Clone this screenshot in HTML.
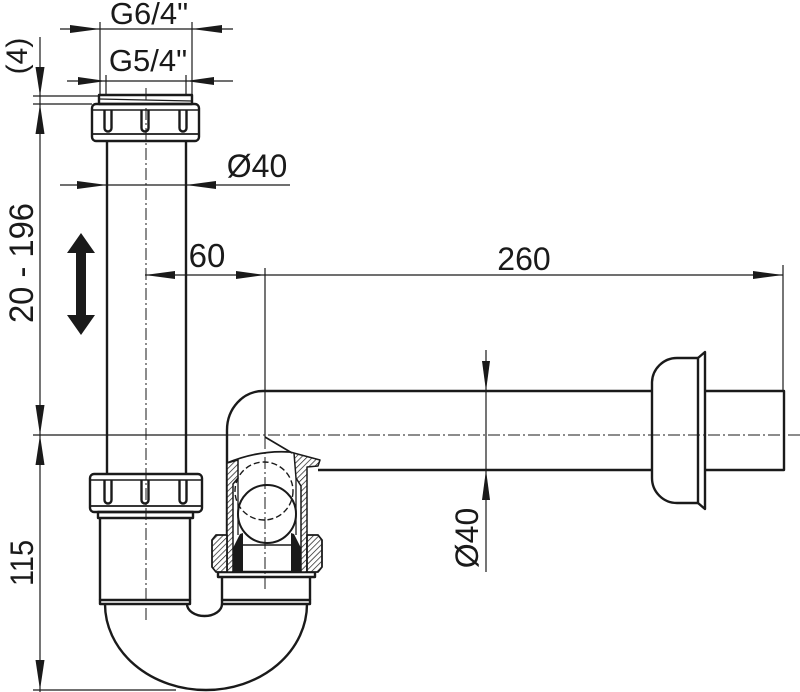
<!DOCTYPE html>
<html><head><meta charset="utf-8"><style>html,body{margin:0;padding:0;background:#fff}svg{display:block}text{font-family:"Liberation Sans",Arial,sans-serif;fill:#1a1a1a}</style></head><body>
<svg width="800" height="692" viewBox="0 0 800 692" xmlns="http://www.w3.org/2000/svg">
<defs><pattern id="h" width="4" height="4" patternUnits="userSpaceOnUse" patternTransform="rotate(45)"><rect width="4" height="4" fill="#fff"/><line x1="0" y1="0" x2="0" y2="4" stroke="#1a1a1a" stroke-width="1.4"/></pattern></defs>
<rect width="800" height="692" fill="#fff"/>
<!-- dimension lines -->
<g stroke="#1a1a1a" stroke-width="1.2" fill="none">
<line x1="60" y1="29" x2="233" y2="29"/>
<line x1="100" y1="22" x2="100" y2="95"/>
<line x1="192" y1="22" x2="192" y2="95"/>
<line x1="67" y1="81" x2="233" y2="81"/>
<line x1="106" y1="75" x2="106" y2="95"/>
<line x1="186" y1="75" x2="186" y2="95"/>
<line x1="33" y1="96" x2="100" y2="96"/>
<line x1="33" y1="104" x2="92" y2="104"/>
<line x1="40" y1="37" x2="40" y2="692"/>
<line x1="33" y1="690" x2="176" y2="690"/>
<line x1="60" y1="185" x2="290" y2="185"/>
<line x1="145" y1="275" x2="783" y2="275"/>
<line x1="265" y1="268" x2="265" y2="437"/>
<line x1="783" y1="265" x2="783" y2="391"/>
<line x1="486" y1="350" x2="486" y2="572"/>
<line x1="33" y1="435" x2="228" y2="435"/>
</g>
<!-- centerlines -->
<g stroke="#1a1a1a" stroke-width="1" stroke-dasharray="12 3 2 3" fill="none">
<line x1="146" y1="88" x2="146" y2="620"/>
<line x1="228" y1="435" x2="800" y2="435"/>
<line x1="265" y1="437" x2="265" y2="590"/>
</g>
<!-- object outlines -->
<g stroke="#1a1a1a" stroke-width="2.4" fill="none" stroke-linejoin="round">
<!-- top thread band -->
<rect x="99" y="95" width="93" height="9"/>
<line x1="99" y1="99" x2="192" y2="101" stroke-width="1.2"/>
<!-- upper nut -->
<rect x="92" y="104" width="107" height="37" rx="4"/>
<line x1="92" y1="110" x2="199" y2="110" stroke-width="1.6"/>
<line x1="92" y1="134" x2="199" y2="134" stroke-width="1.8"/>
<path d="M104.5,110 V128 A3.5,3.5 0 0 0 111.5,128 V110"/>
<path d="M141.5,110 V128 A3.5,3.5 0 0 0 148.5,128 V110"/>
<path d="M179.5,110 V128 A3.5,3.5 0 0 0 186.5,128 V110"/>
<!-- vertical pipe -->
<line x1="107" y1="141" x2="107" y2="474"/>
<line x1="186" y1="141" x2="186" y2="474"/>
<!-- lower nut -->
<rect x="90" y="474" width="112" height="38" rx="4"/>
<line x1="90" y1="480" x2="202" y2="480" stroke-width="1.6"/>
<line x1="90" y1="506" x2="202" y2="506" stroke-width="1.8"/>
<path d="M104.5,480 V500 A3.5,3.5 0 0 0 111.5,500 V480"/>
<path d="M141.5,480 V500 A3.5,3.5 0 0 0 148.5,500 V480"/>
<path d="M179.5,480 V500 A3.5,3.5 0 0 0 186.5,500 V480"/>
<rect x="98" y="512" width="95" height="6"/>
<line x1="100" y1="518" x2="100" y2="600"/>
<line x1="190" y1="518" x2="190" y2="600"/>
<rect x="100" y="600" width="90" height="4"/>
<!-- U bend -->
<path d="M105,604 A101,86 0 0 0 307,604"/>
<path d="M187,604 A17.5,12 0 0 0 222,604"/>
<rect x="222" y="600" width="88" height="4"/>
<line x1="222" y1="577" x2="222" y2="600"/>
<line x1="310" y1="577" x2="310" y2="600"/>
<rect x="218" y="572" width="97" height="5"/>
<!-- elbow + horizontal pipe -->
<path d="M227,572 V430 A36,39 0 0 1 263,391 H652"/>
<line x1="318" y1="470" x2="652" y2="470"/>
<line x1="265" y1="437" x2="292" y2="453" stroke-width="1.6"/>
<path d="M227,463 Q258,450 290,452" stroke-width="1.8"/>
<!-- hatched walls -->
<polygon points="227,463 238,460 238,478 233,484 233,572 227,572" fill="url(#h)" stroke-width="1.5"/>
<polygon points="290,452 320,460 318,466 307,467 307,572 301,572 301,486 296,478 294,453" fill="url(#h)" stroke-width="1.5"/>
<line x1="238" y1="478" x2="238" y2="535" stroke-width="1.3"/>
<line x1="296" y1="478" x2="296" y2="535" stroke-width="1.3"/>
<!-- nut pieces -->
<polygon points="212,540 216,535 227,535 227,572 216,572 212,567" fill="url(#h)" stroke-width="1.8"/>
<polygon points="307,535 318,535 322,540 322,567 318,572 307,572" fill="url(#h)" stroke-width="1.8"/>
<!-- circles -->
<circle cx="264" cy="491" r="29" stroke-width="1.4" stroke-dasharray="6 3"/>
<circle cx="267" cy="514" r="29" stroke-width="2"/>
<line x1="242" y1="545" x2="292" y2="545" stroke-width="1.6"/>
<!-- right bulb & flange -->
<path d="M698,358 H677 A25,25 0 0 0 652,383 V478 A25,25 0 0 0 677,503 H698"/>
<path d="M698,358 L705,352 V509 L698,503 Z"/>
<path d="M705,391 H784 V470 H705"/>
</g>
<!-- black gaskets -->
<g fill="#1a1a1a">
<polygon points="233,548 240,534 243,533 243,573 233,573"/>
<polygon points="301,548 294,534 291,533 291,573 301,573"/>
</g>
<!-- arrows -->
<g fill="#1a1a1a">
<polygon points="100,29 70,25 70,33"/>
<polygon points="192,29 222,25 222,33"/>
<polygon points="106,81 78,77 78,85"/>
<polygon points="186,81 214,77 214,85"/>
<polygon points="40,96 35.5,67 44.5,67"/>
<polygon points="40,104 35.5,134 44.5,134"/>
<polygon points="40,435 35.5,405 44.5,405"/>
<polygon points="40,435 35.5,465 44.5,465"/>
<polygon points="40,690 35.5,660 44.5,660"/>
<polygon points="107,185 77,181 77,189"/>
<polygon points="186,185 216,181 216,189"/>
<polygon points="145,275 175,271 175,279"/>
<polygon points="265,275 236,271 236,279"/>
<polygon points="783,275 753,271 753,279"/>
<polygon points="486,391 482,361 490,361"/>
<polygon points="486,470 482,500 490,500"/>
<polygon points="81,233 95,253 86,253 86,315 95,315 81,335 67,315 76,315 76,253 67,253"/>
</g>
<!-- texts -->
<text x="149" y="24" font-size="31" text-anchor="middle">G6/4"</text>
<text x="148" y="71" font-size="31" text-anchor="middle">G5/4"</text>
<text x="257" y="177" font-size="32" text-anchor="middle">Ø40</text>
<text x="207" y="267" font-size="33" text-anchor="middle">60</text>
<text x="524" y="270" font-size="32" text-anchor="middle">260</text>
<text transform="translate(27,56) rotate(-90)" font-size="30" text-anchor="middle">(4)</text>
<text transform="translate(33,263) rotate(-90)" font-size="34" text-anchor="middle" textLength="120" lengthAdjust="spacingAndGlyphs">20 - 196</text>
<text transform="translate(33,563) rotate(-90)" font-size="32" text-anchor="middle" textLength="46" lengthAdjust="spacingAndGlyphs">115</text>
<text transform="translate(478,538) rotate(-90)" font-size="32" text-anchor="middle">Ø40</text>
</svg>
</body></html>
